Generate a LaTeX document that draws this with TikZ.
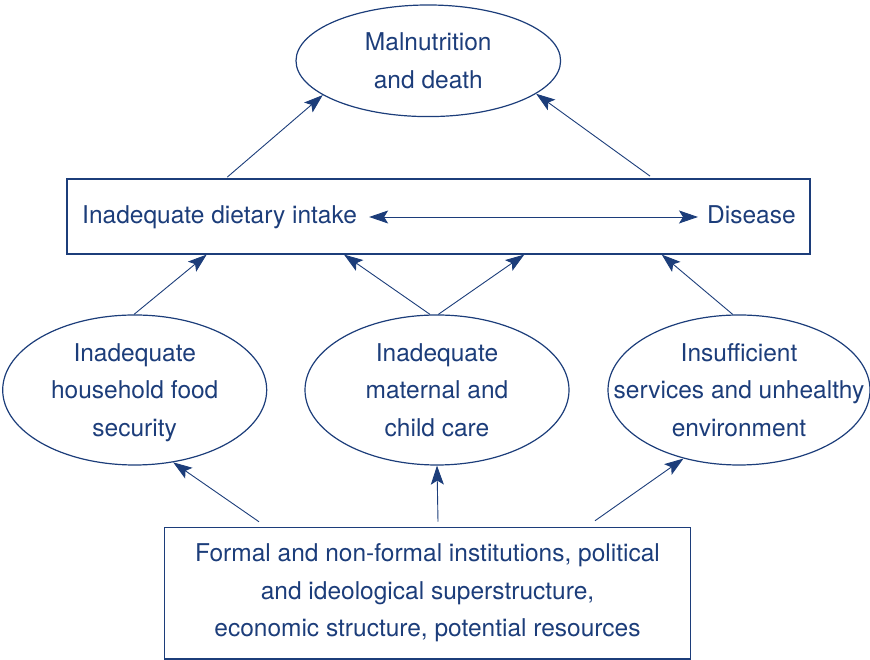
\documentclass[tikz,border=0pt]{standalone}
\usepackage{fontspec}
\setmainfont{TeX Gyre Heros}
\usetikzlibrary{shapes.geometric,arrows.meta}
\definecolor{navy}{RGB}{28,61,122}
\begin{document}
\begin{tikzpicture}[x=1pt,y=1pt,
  every node/.style={text=navy,font=\fontsize{24.5}{37.5}\selectfont},
  ell/.style={ellipse,draw=navy,line width=1.2pt,inner xsep=-40pt,inner ysep=0pt,align=center},
  boxx/.style={rectangle,draw=navy,line width=1.2pt,inner sep=0pt,align=center},
  lbl/.style={inner sep=0pt,text height=18pt,text depth=5pt},
  arr/.style={draw=navy,line width=0.9pt,-{Stealth[length=19pt,width=13pt,inset=4pt]}},
  arrboth/.style={draw=navy,line width=0.9pt,{Stealth[length=19pt,width=13pt,inset=4pt]}-{Stealth[length=19pt,width=13pt,inset=4pt]}}
]
\useasboundingbox (0,0) rectangle (870,660);
\node[ell,minimum width=264.6pt,minimum height=111.6pt] (mal) at (428.3,599.2) {Malnutrition\\and death};
\node[boxx,minimum width=743pt,minimum height=75pt] (mid) at (438.5,443.5) {};
\node[lbl,anchor=base west] (intake) at (82,436.5) {Inadequate dietary intake};
\node[lbl,anchor=base west] (disease) at (707,436.5) {Disease};
\node[ell,minimum width=264pt,minimum height=150pt] (hfs) at (134.7,270) {\raisebox{0pt}[\height][0pt]{Inadequate}\\household food\\\raisebox{0pt}[\height][0pt]{security}};
\node[ell,minimum width=264pt,minimum height=150pt] (mcc) at (437,270) {Inadequate\\maternal and\\child care};
\node[ell,minimum width=262pt,minimum height=150pt] (env) at (739,270) {Insufficient\\services and unhealthy\\environment};
\node[boxx,minimum width=526.4pt,minimum height=131.7pt] (bot) at (427.5,66.8) {Formal and non-formal institutions, political\\and ideological superstructure,\\economic structure, potential resources};

\draw[arrboth,shorten <=12pt,shorten >=9pt] (intake.east) -- (disease.west);
\draw[arr] ([xshift=-211.2pt,yshift=1.3pt]mid.north) -- (mal.198.5);
\draw[arr] ([xshift=211.5pt,yshift=2.3pt]mid.north) -- (mal.-17.6);
\draw[arr] ([xshift=-0.7pt]hfs.north) -- ([xshift=-231.8pt]mid.south);
\draw[arr] ([xshift=-7pt]mcc.north) -- ([xshift=-94.5pt]mid.south);
\draw[arr] ([xshift=1.3pt]mcc.north) -- ([xshift=85.8pt]mid.south);
\draw[arr] ([xshift=-6.3pt]env.north) -- ([xshift=223.2pt]mid.south);
\draw[arr] ([xshift=-168.5pt,yshift=5pt]bot.north) -- (hfs.-62);
\draw[arr] ([xshift=10.5pt,yshift=5pt]bot.north) -- (mcc.south);
\draw[arr] ([xshift=167.5pt,yshift=6pt]bot.north) -- (env.-129.6);
\end{tikzpicture}
\end{document}
